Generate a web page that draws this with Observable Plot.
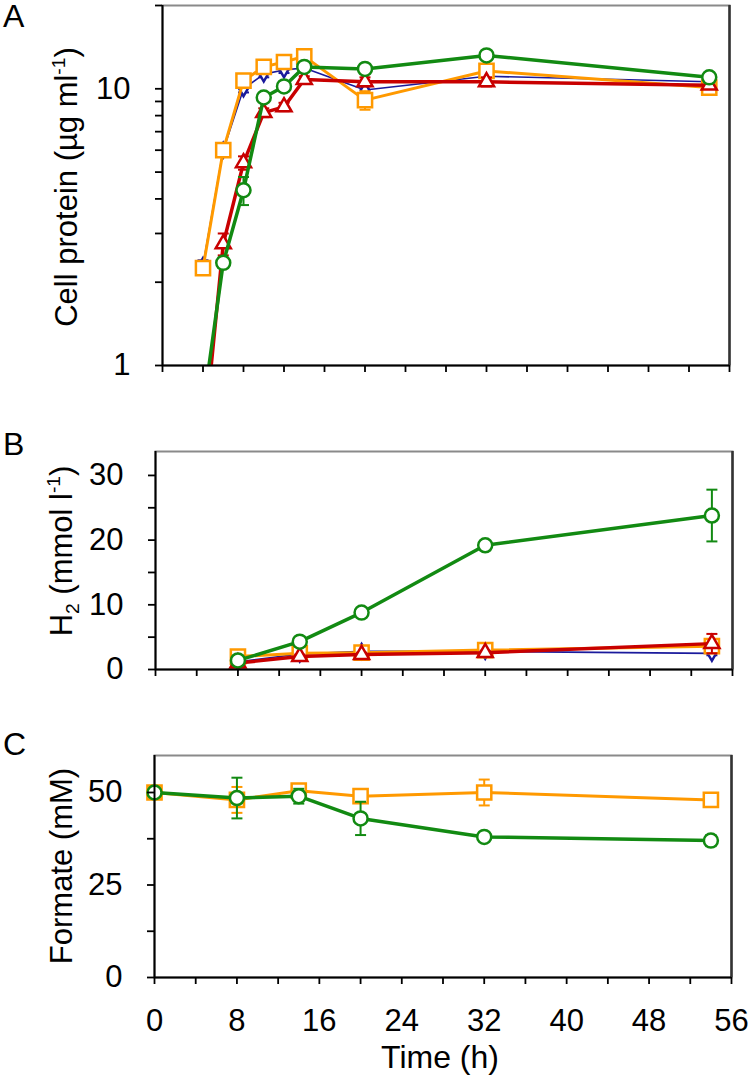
<!DOCTYPE html>
<html><head><meta charset="utf-8">
<script src="https://cdn.jsdelivr.net/npm/d3@7"></script>
<script src="https://cdn.jsdelivr.net/npm/@observablehq/plot@0.6"></script>
<style>
body{margin:0;background:#fff;}
#chart{width:750px;}
#chart svg{display:block;}
</style>
</head><body><div id="chart"></div>
<script>
const FONT = "'Liberation Sans', Arial, Helvetica, sans-serif";

// Series styling (index used by the rows below)
const seriesNames   = ["orange", "blue", "red", "green"];
const seriesColors  = ["#ff9900", "#1a1a9c", "#c80000", "#128a12"];
const seriesSymbols = ["square", "diamond", "triangle", "circle"];
const seriesWidths  = [3, 1.6, 3.5, 3.5];
const seriesRadius  = [8, 4.5, 5.6, 7];

// x axis
const xDomain = [0, 56];
const xTicks = [0, 4, 8, 12, 16, 20, 24, 28, 32, 36, 40, 44, 48, 52, 56];
const xLabelTicks = [0, 8, 16, 24, 32, 40, 48, 56];

// Panel A: cell protein (µg/ml), log scale
const timeA = [4, 6, 8, 10, 12, 14, 20, 32, 54];
const proteinOrange = [2.25, 6.0, 10.7, 12.0, 12.5, 13.1, 9.1, 11.6, 10.1];
const proteinBlue   = [2.3, 6.0, 10.0, 11.3, 11.7, 11.9, 9.9, 11.1, 10.6];
const proteinRed    = [0.5, 2.75, 5.4, 8.2, 8.6, 10.8, 10.6, 10.6, 10.3];
const proteinGreen  = [0.7, 2.35, 4.3, 9.3, 10.2, 12.0, 11.8, 13.2, 11.0];
const proteinErrOrange = [0.1, 0.2, 0.3, 0.3, 0.3, 0.3, 0.7, 0.6, 0.3];
const proteinErrBlue   = [0.1, 0.2, 0.3, 0.3, 0.3, 0.3, 0.4, 0.4, 0.3];
const proteinErrRed    = [0.05, 0.25, 0.3, 0.3, 0.3, 0.3, 0.4, 0.4, 0.3];
const proteinErrGreen  = [0.05, 0.1, 0.5, 0.3, 0.3, 0.3, 0.4, 0.4, 0.3];
const yTicksA = [1, 2, 3, 4, 5, 6, 7, 8, 9, 10, 20];
const yLabelsA = [1, 10];

// Panel B: H2 (mmol/l)
const timeB = [8, 14, 20, 32, 54];
const h2Orange = [2.0, 2.5, 2.6, 3.0, 3.6];
const h2Blue   = [1.2, 2.4, 2.8, 2.8, 2.5];
const h2Red    = [1.0, 2.0, 2.3, 2.6, 4.0];
const h2Green  = [1.4, 4.3, 8.8, 19.2, 23.8];
const h2ErrOrange = [1.0, 0.3, 0.3, 0.5, 0.8];
const h2ErrBlue   = [0.3, 0.3, 0.3, 0.3, 0.3];
const h2ErrRed    = [0.3, 0.3, 0.3, 0.3, 1.5];
const h2ErrGreen  = [0.3, 0.3, 0.4, 0.4, 4.0];
const yTicksB = [0, 5, 10, 15, 20, 25, 30];
const yLabelsB = [0, 10, 20, 30];

// Panel C: formate (mM)
const timeC = [0, 8, 14, 20, 32, 54];
const formateOrange = [50, 48, 50.5, 49, 50, 48];
const formateGreen  = [50, 48.5, 49, 43, 38, 37];
const formateErrOrange = [1, 3.5, 1, 1, 3.5, 1];
const formateErrGreen  = [1, 5.5, 2, 4.5, 1, 1.5];
const yTicksC = [0, 12.5, 25, 37.5, 50];
const yLabelsC = [0, 25, 50];

function rowsFor(times, vals, errs, idx) {
  return times.map((t, i) => ({t, v: vals[i], lo: vals[i] - errs[i], hi: vals[i] + errs[i], s: idx}));
}

const capSymbol = {draw(ctx, size) { const w = 5.5; ctx.moveTo(-w, 0); ctx.lineTo(w, 0); }};

function seriesMarks(list, clip) {
  const marks = [];
  for (const d of list) {
    const i = d[0].s;
    const c = seriesColors[i];
    marks.push(Plot.line(d, {x: "t", y: "v", stroke: c, strokeWidth: seriesWidths[i], clip}));
    marks.push(Plot.ruleX(d, {x: "t", y1: "lo", y2: "hi", stroke: c, strokeWidth: 2, clip}));
    marks.push(Plot.dot(d, {x: "t", y: "lo", symbol: capSymbol, stroke: c, strokeWidth: 2, clip}));
    marks.push(Plot.dot(d, {x: "t", y: "hi", symbol: capSymbol, stroke: c, strokeWidth: 2, clip}));
    marks.push(Plot.dot(d, {x: "t", y: "v", symbol: seriesSymbols[i], r: seriesRadius[i], fill: "white", stroke: c, strokeWidth: 2.5, clip}));
  }
  return marks;
}

function panel({height, mt, mb, ml, mr, yType, yDomain, yTicks, yLabels, xLabels, list, clip}) {
  return Plot.plot({
    width: 750, height,
    marginTop: mt, marginBottom: mb, marginLeft: ml, marginRight: mr,
    x: {domain: xDomain, label: null},
    y: {type: yType, domain: yDomain, label: null},
    style: {fontFamily: FONT, fontSize: "31px", background: "white", color: "black", overflow: "visible"},
    marks: [
      Plot.frame({stroke: "#8a8a8a", strokeWidth: 2}),
      Plot.ruleX([xDomain[1]], {stroke: "#333", strokeWidth: 2.5}),
      ...seriesMarks(list, clip),
      Plot.ruleX([xDomain[0]], {stroke: "black", strokeWidth: 2}),
      Plot.ruleY([yDomain[0]], {stroke: "black", strokeWidth: 2}),
      Plot.axisX({ticks: xTicks, tickSize: 7, tickPadding: 24, strokeWidth: 1.8, stroke: "black", fontSize: 31, label: null,
        tickFormat: d => (xLabels && xLabelTicks.includes(d)) ? String(d) : ""}),
      Plot.axisY({ticks: yTicks, tickSize: 7, tickPadding: 25, strokeWidth: 1.8, stroke: "black", fontSize: 31, label: null,
        tickFormat: d => yLabels.includes(d) ? String(d) : ""})
    ]
  });
}

function addText(svg, x, y, rotate, parts, size, anchor = "middle") {
  const t = d3.select(svg).append("text")
    .attr("transform", `translate(${x},${y}) rotate(${rotate})`)
    .attr("text-anchor", anchor).attr("font-family", FONT)
    .attr("font-size", size).attr("fill", "black");
  for (const p of parts) {
    const s = t.append("tspan").text(p.text);
    if (p.sup) s.attr("font-size", size * 0.62).attr("dy", -size * 0.38);
    else if (p.sub) s.attr("font-size", size * 0.62).attr("dy", size * 0.22);
    if (p.reset) s.attr("dy", p.reset);
  }
  return t;
}

const chart = document.getElementById("chart");

// Panel A (blue drawn first so its diamonds sit under the orange squares)
const listA = [
  rowsFor(timeA, proteinBlue, proteinErrBlue, 1),
  rowsFor(timeA, proteinOrange, proteinErrOrange, 0),
  rowsFor(timeA, proteinRed, proteinErrRed, 2),
  rowsFor(timeA, proteinGreen, proteinErrGreen, 3)
];
const svgA = panel({height: 400, mt: 5, mb: 35, ml: 162, mr: 21, yType: "log", yDomain: [1, 20],
  yTicks: yTicksA, yLabels: yLabelsA, xLabels: false, list: listA, clip: true});
addText(svgA, 3, 27, 0, [{text: "A"}], 32, "start");
addText(svgA, 77, 187, -90, [{text: "Cell protein (µg ml"}, {text: "-1", sup: true}, {text: ")", reset: 31 * 0.38}], 31);
chart.appendChild(svgA);

// Panel B
const listB = [
  rowsFor(timeB, h2Blue, h2ErrBlue, 1),
  rowsFor(timeB, h2Orange, h2ErrOrange, 0),
  rowsFor(timeB, h2Red, h2ErrRed, 2),
  rowsFor(timeB, h2Green, h2ErrGreen, 3)
];
const svgB = panel({height: 300, mt: 51, mb: 31, ml: 155, mr: 18, yType: "linear", yDomain: [0, 33.7],
  yTicks: yTicksB, yLabels: yLabelsB, xLabels: false, list: listB, clip: false});
addText(svgB, 3, 55, 0, [{text: "B"}], 32, "start");
addText(svgB, 72, 151, -90, [{text: "H"}, {text: "2", sub: true}, {text: " (mmol l", reset: -31 * 0.22}, {text: "-1", sup: true}, {text: ")", reset: 31 * 0.38}], 31);
chart.appendChild(svgB);

// Panel C
const listC = [
  rowsFor(timeC, formateOrange, formateErrOrange, 0),
  rowsFor(timeC, formateGreen, formateErrGreen, 3)
];
const svgC = panel({height: 387, mt: 55, mb: 110, ml: 154, mr: 19, yType: "linear", yDomain: [0, 60],
  yTicks: yTicksC, yLabels: yLabelsC, xLabels: true, list: listC, clip: false});
addText(svgC, 3, 55, 0, [{text: "C"}], 32, "start");
addText(svgC, 72, 166, -90, [{text: "Formate (mM)"}], 31);
addText(svgC, 440, 368, 0, [{text: "Time (h)"}], 32);
chart.appendChild(svgC);
</script></body></html>
